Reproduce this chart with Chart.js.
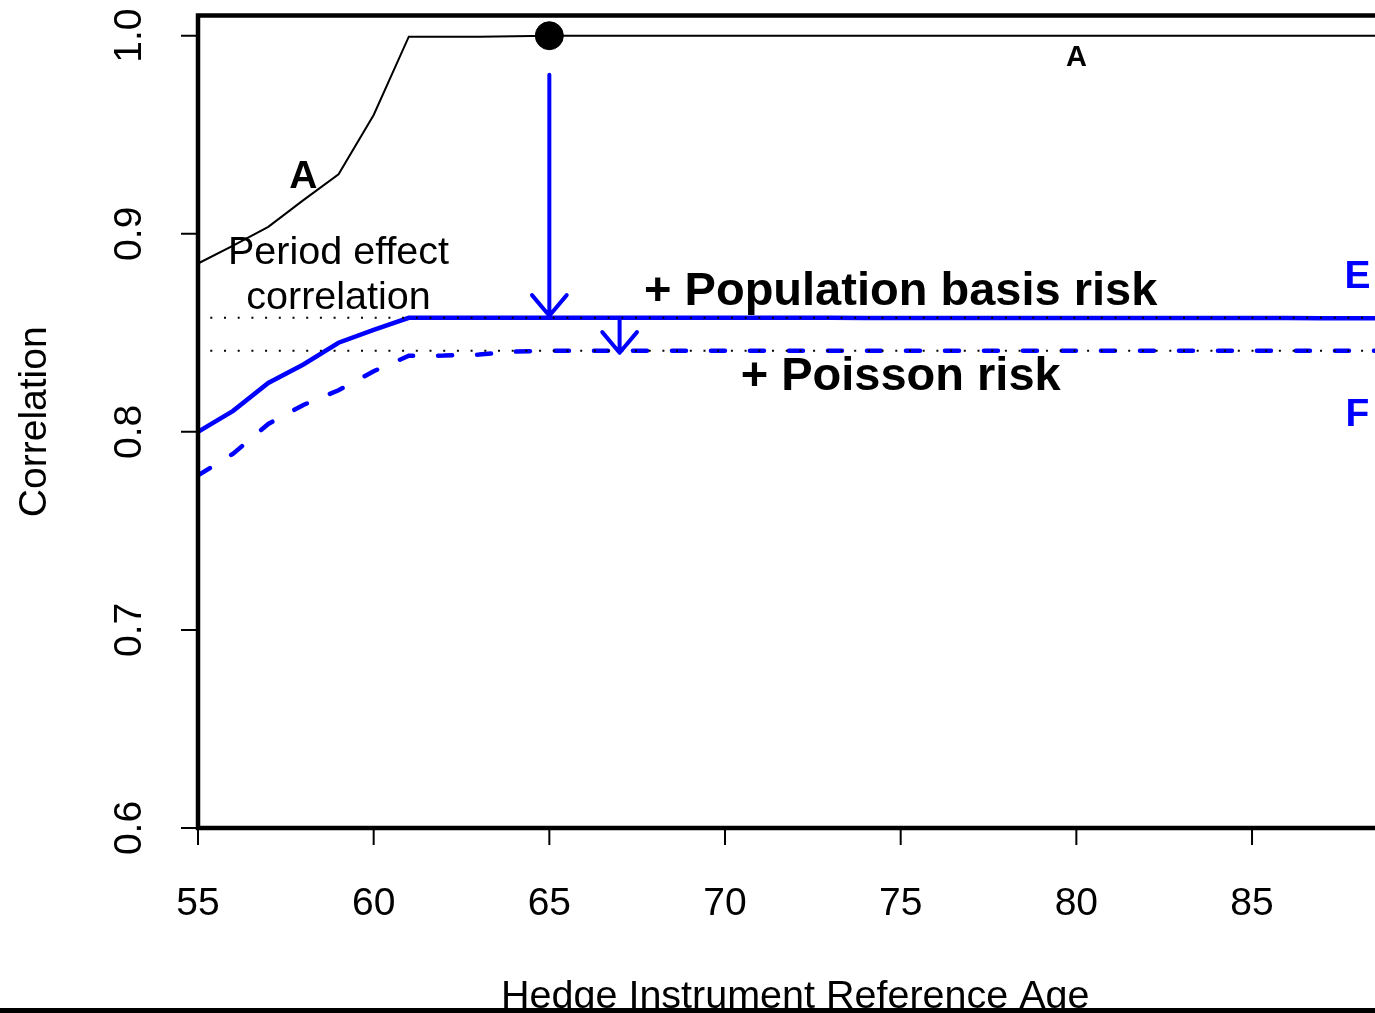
<!DOCTYPE html>
<html><head><meta charset="utf-8">
<script src="https://cdn.jsdelivr.net/npm/chart.js@4/dist/chart.umd.min.js"></script>
<style>html,body{margin:0;padding:0;background:#fff;overflow:hidden}canvas{display:block}</style>
</head><body>
<canvas id="c" width="1375" height="1013" style="width:1375px;height:1013px"></canvas>
<script>
// ---- data ----
const ages       = [55,56,57,58,59,60,61,62,63,64,65,66,67,68,69,70,71,72,73,74,75,76,77,78,79,80,81,82,83,84,85,86,87,88,89,90];
const periodCorr = [0.885,0.894,0.9035,0.917,0.930,0.960,0.9995,0.9995,0.9995,0.9997,1.0,1.0,1.0,1.0,1.0,1.0,1.0,1.0,1.0,1.0,1.0,1.0,1.0,1.0,1.0,1.0,1.0,1.0,1.0,1.0,1.0,1.0,1.0,1.0,1.0,1.0];
const popBasis   = [0.800,0.8106,0.8247,0.834,0.845,0.8515,0.8576,0.8576,0.8576,0.8576,0.8576,0.8576,0.8576,0.8576,0.8576,0.8576,0.8576,0.8576,0.8576,0.8575,0.8575,0.8575,0.8575,0.8575,0.8575,0.8575,0.8575,0.8575,0.8575,0.8575,0.8575,0.8575,0.8574,0.8574,0.8574,0.8574];
const poissonRisk= [0.778,0.789,0.804,0.8136,0.821,0.8306,0.8384,0.8385,0.839,0.8405,0.841,0.841,0.841,0.841,0.841,0.841,0.841,0.841,0.841,0.841,0.841,0.841,0.841,0.841,0.841,0.841,0.841,0.841,0.841,0.841,0.841,0.841,0.841,0.841,0.841,0.841];
const refLevels  = [0.8576, 0.841];
const refFrom    = 55.35, refTo = 90;
const highlightAge = [65], highlightCorr = [1.0];
const arrowAges  = [65, 67];
const arrowFrom  = [0.9803, 0.8576];
const arrowTo    = [0.8586, 0.8399];
const xTicks = [55,60,65,70,75,80,85];
const yTicks = [0.6,0.7,0.8,0.9,1.0];
const yTickLabels = ['0.6','0.7','0.8','0.9','1.0'];
const xTitle = 'Hedge Instrument Reference Age';
const yTitle = 'Correlation';

const FONT = '"Liberation Sans", Arial, Helvetica, sans-serif';
const BLUE = '#0000ff';

const pts = (xs, ys) => xs.map((x, i) => ({x, y: ys[i]}));

const annotations = [
  {text:'A', x:58, y:0.93, size:39, bold:true, color:'#000'},
  {text:'A', x:80, y:0.99, size:29, bold:true, color:'#000'},
  {text:'Period effect', x:59, y:0.8917, size:39.5, bold:false, color:'#000'},
  {text:'correlation', x:59, y:0.869, size:39.5, bold:false, color:'#000'},
  {text:'+ Population basis risk', x:75, y:0.8727, size:47, bold:true, color:'#000'},
  {text:'+ Poisson risk', x:75, y:0.8295, size:47, bold:true, color:'#000'},
  {text:'E', x:88, y:0.8798, size:39, bold:true, color:BLUE},
  {text:'F', x:88, y:0.8101, size:39, bold:true, color:BLUE}
];

function capText(ctx, text, px, py, size, bold, color, rot) {
  ctx.save();
  ctx.font = (bold ? 'bold ' : '') + size + 'px ' + FONT;
  ctx.fillStyle = color;
  ctx.textAlign = 'center';
  ctx.textBaseline = 'alphabetic';
  ctx.translate(px, py);
  if (rot) ctx.rotate(rot);
  ctx.fillText(text, 0, 0.358 * size);
  ctx.restore();
}

const decor = {
  id: 'decor',
  afterDraw(chart) {
    const ctx = chart.ctx, xs = chart.scales.x, ys = chart.scales.y;
    const a = chart.chartArea;
    // arrows
    ctx.save();
    ctx.strokeStyle = BLUE; ctx.lineWidth = 4; ctx.lineCap = 'round'; ctx.lineJoin = 'round';
    arrowAges.forEach((ag, i) => {
      const px = xs.getPixelForValue(ag);
      const y0 = ys.getPixelForValue(arrowFrom[i]);
      const y1 = ys.getPixelForValue(arrowTo[i]);
      const L = 27, ang = 40 * Math.PI / 180;
      ctx.beginPath();
      ctx.moveTo(px, y0); ctx.lineTo(px, y1);
      ctx.moveTo(px - L * Math.sin(ang), y1 - L * Math.cos(ang));
      ctx.lineTo(px, y1);
      ctx.lineTo(px + L * Math.sin(ang), y1 - L * Math.cos(ang));
      ctx.stroke();
    });
    ctx.restore();
    // box
    ctx.save();
    ctx.strokeStyle = '#000'; ctx.lineWidth = 4.5;
    const right = xs.getPixelForValue(89.05);
    ctx.strokeRect(a.left, a.top, right - a.left, a.bottom - a.top);
    // ticks
    ctx.lineWidth = 2;
    ctx.beginPath();
    yTicks.forEach(v => { const py = ys.getPixelForValue(v); ctx.moveTo(a.left - 17, py); ctx.lineTo(a.left, py); });
    xTicks.forEach(v => { const px = xs.getPixelForValue(v); ctx.moveTo(px, a.bottom); ctx.lineTo(px, a.bottom + 17); });
    ctx.stroke();
    ctx.restore();
    yTicks.forEach((v, i) => capText(ctx, yTickLabels[i], 127, ys.getPixelForValue(v), 39, false, '#000', -Math.PI / 2));
    xTicks.forEach(v => capText(ctx, String(v), xs.getPixelForValue(v), 901, 39, false, '#000'));
    capText(ctx, yTitle, 32, (a.top + a.bottom) / 2, 39, false, '#000', -Math.PI / 2);
    capText(ctx, xTitle, xs.getPixelForValue(72), 994, 39.5, false, '#000');
    annotations.forEach(t => capText(ctx, t.text, xs.getPixelForValue(t.x), ys.getPixelForValue(t.y), t.size, t.bold, t.color));
    // bottom band
    ctx.fillStyle = '#000';
    ctx.fillRect(0, 1008, chart.width, 5);
  }
};

new Chart(document.getElementById('c'), {
  type: 'scatter',
  data: {
    datasets: [
      {data: pts(highlightAge, highlightCorr), pointRadius: 14, pointBackgroundColor: '#000', pointBorderColor: '#000', showLine: false},
      {data: [{x: refFrom, y: refLevels[0]}, {x: refTo, y: refLevels[0]}], showLine: true, borderColor: '#000', borderWidth: 2, borderDash: [2, 11.7], pointRadius: 0},
      {data: [{x: refFrom, y: refLevels[1]}, {x: refTo, y: refLevels[1]}], showLine: true, borderColor: '#000', borderWidth: 2, borderDash: [2, 11.7], pointRadius: 0},
      {data: pts(ages, periodCorr), showLine: true, borderColor: '#000', borderWidth: 2, pointRadius: 0, tension: 0},
      {data: pts(ages, popBasis), showLine: true, borderColor: BLUE, borderWidth: 4.5, pointRadius: 0, tension: 0},
      {data: pts(ages, poissonRisk), showLine: true, borderColor: BLUE, borderWidth: 4.5, borderDash: [14, 25], borderCapStyle: 'round', pointRadius: 0, tension: 0}
    ]
  },
  options: {
    responsive: false, animation: false, devicePixelRatio: 1,
    layout: {autoPadding: false, padding: {left: 198, top: 15.5, right: 0, bottom: 185}},
    scales: {
      x: {type: 'linear', min: 55, max: 88.5, display: false},
      y: {type: 'linear', min: 0.6, max: 1.0102, display: false}
    },
    plugins: {legend: {display: false}, tooltip: {enabled: false}}
  },
  plugins: [decor]
});
</script>
</body></html>
